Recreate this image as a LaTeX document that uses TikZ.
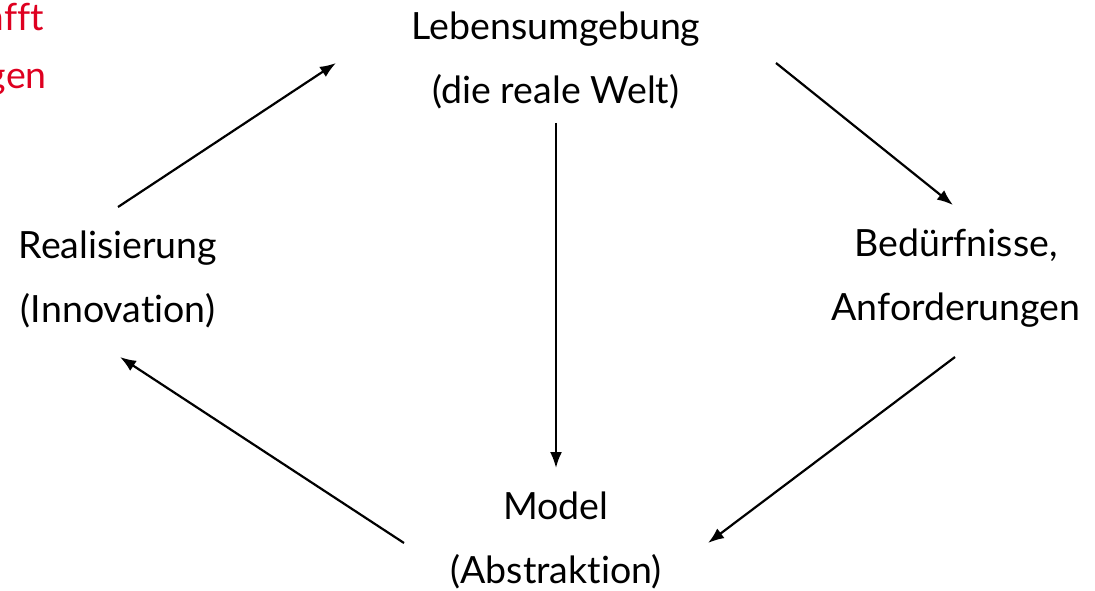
\documentclass[tikz,border=0pt]{standalone}
\usepackage{fontspec}
\setmainfont{Lato}[RawFeature=-liga]
\usetikzlibrary{arrows.meta,calc}
\definecolor{redtxt}{RGB}{222,0,32}
\tikzset{
  lbl/.style={align=center,inner sep=0pt,font=\fontsize{37.5}{64}\selectfont},
  redlbl/.style={anchor=east,inner sep=0pt,text=redtxt,font=\fontsize{37.5}{64}\selectfont},
  arr/.style={line width=2.2pt,-{Latex[length=16pt,width=12pt]}}
}
\begin{document}
\begin{tikzpicture}[x=1pt,y=-1pt]
\clip (0,0) rectangle (1095,591);
\useasboundingbox (0,0) rectangle (1095,591);
\node[lbl] (leb) at (556,60) {Lebensumgebung\\(die reale Welt)};
\node[lbl] (real) at (118,279) {Realisierung\\(Innovation)};
\node[lbl] (bed) at (956,278) {Bedürfnisse,\\Anforderungen};
\node[lbl] (mod) at (556,540) {Model\\(Abstraktion)};
\node[redlbl] (r1) at (44,17) {schafft};
\node[redlbl] (r2) at (47,78) {Anforderungen};
\draw[arr] ($(real)+(0,-72)$) -- ($(leb)+(-220,3)$);
\draw[arr] ($(leb)+(220,3)$) -- ($(bed)+(-3,-73)$);
\draw[arr] ($(leb)+(0,63)$) -- ($(mod)+(0,-72)$);
\draw[arr] ($(bed)+(-1,79)$) -- ($(mod)+(152,3)$);
\draw[arr] ($(mod)+(-152,3)$) -- ($(real)+(2,78)$);
\end{tikzpicture}
\end{document}
